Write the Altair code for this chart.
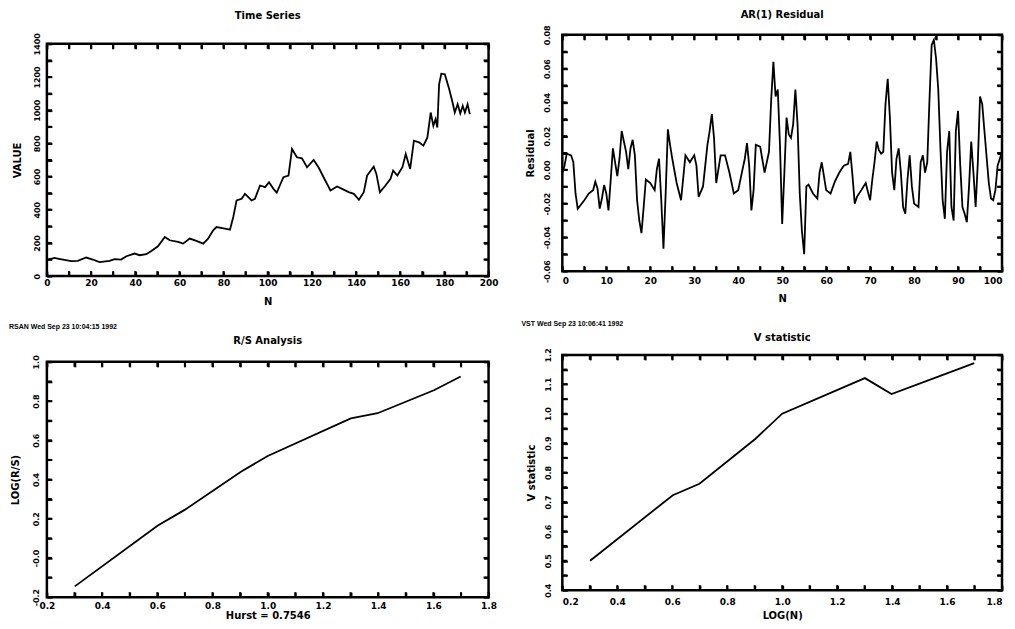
import altair as alt
import pandas as pd

FONT = "DejaVu Sans"

# ---------------- Panel 1: Time Series ----------------
ts_n = [0, 3.4, 4.9, 11, 14, 17.8, 20.8, 23.8, 28.4, 30.6, 33.6, 36, 39.7, 42, 45, 47.3,
        50.3, 53.4, 55.6, 59.4, 61.7, 64.7, 67.7, 70.8, 73, 75.3, 76.8, 80.6, 82.9, 84.4,
        85.9, 88.2, 89.7, 91.2, 92.7, 94.2, 96.5, 98.8, 100.6, 102.6, 104.1, 107.1, 109.4,
        111, 113.2, 115.5, 117.8, 120.8, 123, 125.3, 128.4, 131.4, 133.7, 136.7, 139, 141.3,
        143.5, 145, 148, 149.2, 150.8, 153.3, 155.6, 156.8, 158.7, 161, 162.5, 164.5, 166.2,
        168.5, 170.5, 172.3, 173.8, 175, 176, 176.8, 177.6, 178.6, 180.2, 182.2, 183.7,
        184.7, 186, 187.2, 188.3, 189.3, 190.5, 191.5]
ts_v = [96, 110, 106, 90, 92, 112, 100, 84, 92, 102, 100, 120, 136, 126, 132, 152,
        180, 236, 216, 206, 196, 226, 212, 196, 226, 276, 296, 286, 280, 356,
        456, 466, 496, 476, 456, 466, 546, 536, 566, 526, 503, 596, 606,
        766, 716, 710, 656, 700, 656, 596, 516, 540, 526, 506, 496, 460,
        506, 606, 660, 616, 506, 546, 586, 636, 606, 656, 736, 646, 816,
        806, 786, 836, 986, 906, 946, 896, 1156, 1220, 1216, 1126, 1046,
        986, 1036, 980, 1026, 986, 1036, 976]

# ---------------- Panel 2: AR(1) Residual ----------------
res_n = [0, 0.5, 1, 2, 2.5, 3, 3.5, 5, 6, 7, 7.5, 8, 8.5, 9, 9.5, 10, 10.5, 11, 11.5, 12,
         12.5, 13, 13.5, 14, 14.5, 15, 15.5, 16, 16.5, 17, 17.5, 18, 18.5, 19, 20, 21, 21.5,
         22, 22.5, 23, 23.5, 24, 24.5, 25, 26, 27, 28, 28.5, 29, 30, 30.5, 31, 32, 33, 33.5,
         34, 34.5, 35, 36, 37, 38, 39, 40, 41, 41.5, 42, 42.5, 43, 43.5, 44, 45, 46, 47, 47.5,
         48, 48.5, 49, 49.5, 50, 50.5, 51, 51.5, 52, 52.5, 53, 53.5, 54, 54.5, 55, 55.5, 56,
         57, 58, 58.5, 59, 59.5, 60, 61, 62, 63, 64, 65, 65.5, 66, 66.5, 67, 68, 69, 69.5, 70,
         70.5, 71, 71.5, 72, 72.5, 73, 73.5, 74, 74.5, 75, 75.5, 76, 76.5, 77, 77.5, 78, 78.5,
         79, 79.5, 80, 81, 81.5, 82, 82.5, 83, 83.5, 84, 84.5, 85, 85.5, 86, 86.5, 87, 87.5,
         88, 88.5, 89, 89.5, 90, 90.5, 91, 91.5, 92, 92.5, 93, 93.5, 94, 94.5, 95, 95.5, 96,
         97, 97.5, 98, 98.5, 99, 100]
res_v = [-0.002, 0.0025, 0.0096, 0.0086, 0.0045, -0.014, -0.023, -0.018, -0.014, -0.012,
         -0.007, -0.011, -0.023, -0.017, -0.009, -0.014, -0.024, -0.006, 0.0127, 0.0045,
         -0.0037, 0.0066, 0.023, 0.0168, 0.0107, 0.0004, 0.0127, 0.0178, 0.0086, -0.018,
         -0.030, -0.0375, -0.022, -0.0057, -0.0078, -0.012, 0.0004, 0.0066, -0.018, -0.0467,
         -0.014, 0.024, 0.0148, 0.0066, -0.0078, -0.018, 0.0086, 0.0066, 0.0045, 0.0086,
         0.0025, -0.016, -0.0098, 0.0148, 0.023, 0.033, 0.019, -0.0078, 0.0086, 0.0086,
         -0.0016, -0.014, -0.012, 0.0004, 0.0066, 0.0158, 0.0025, -0.024, -0.012, 0.0148,
         0.0137, -0.0016, 0.0107, 0.0414, 0.064, 0.0435, 0.0476, 0.0148, -0.032, -0.0016,
         0.031, 0.021, 0.019, 0.027, 0.0476, 0.027, -0.014, -0.0365, -0.050, -0.0098, -0.0088,
         -0.014, -0.017, -0.0016, 0.0045, -0.0037, -0.012, -0.014, -0.0068, -0.0016, 0.0025,
         0.0035, 0.0107, -0.0037, -0.020, -0.016, -0.012, -0.0078, -0.013, -0.018,
         -0.0057, 0.0045, 0.0168, 0.0117, 0.0096, 0.0107, 0.039, 0.054, 0.031, -0.0016,
         -0.012, 0.0066, 0.0127, -0.0016, -0.022, -0.026, -0.0057,
         0.0086, -0.0098, -0.020, -0.022, 0.0045, 0.0086, -0.0016, 0.0045, 0.0414, 0.074,
         0.077, 0.066, 0.0476, 0.0127, -0.018, -0.029, 0.0107,
         0.023, -0.022, -0.030, 0.023, 0.035, 0.0025, -0.022, -0.026, -0.031, -0.0098, 0.0168,
         -0.0016, -0.022, 0.0045, 0.0435, 0.039, 0.023,
         -0.0078, -0.017, -0.018, -0.012, 0.0025, 0.0107]

# ---------------- Panel 3 / 4 ----------------
log_n = [0.301, 0.602, 0.699, 0.903, 1.0, 1.301, 1.398, 1.602, 1.699]
log_rs = [-0.145, 0.165, 0.245, 0.44, 0.52, 0.712, 0.738, 0.855, 0.925]
v_stat = [0.50, 0.723, 0.762, 0.915, 1.0, 1.121, 1.067, 1.138, 1.172]

# ---------------- ticks and labels ----------------
p1_xticks = [0, 10, 20, 30, 40, 50, 60, 70, 80, 90, 100, 110, 120, 130, 140, 150, 160, 170, 180, 190, 200]
p1_xmajor = [0, 20, 40, 60, 80, 100, 120, 140, 160, 180, 200]
p1_xlabels = ["0", "20", "40", "60", "80", "100", "120", "140", "160", "180", "200"]
p1_yticks = [0, 100, 200, 300, 400, 500, 600, 700, 800, 900, 1000, 1100, 1200, 1300, 1400]
p1_ymajor = [0, 200, 400, 600, 800, 1000, 1200, 1400]
p1_ylabels = ["0", "200", "400", "600", "800", "1000", "1200", "1400"]

p2_xticks = [0, 5, 10, 15, 20, 25, 30, 35, 40, 45, 50, 55, 60, 65, 70, 75, 80, 85, 90, 95, 100]
p2_xmajor = [0, 10, 20, 30, 40, 50, 60, 70, 80, 90, 100]
p2_xlabels = ["0", "10", "20", "30", "40", "50", "60", "70", "80", "90", "100"]
p2_yticks = [-0.06, -0.05, -0.04, -0.03, -0.02, -0.01, 0.0, 0.01, 0.02, 0.03, 0.04, 0.05, 0.06, 0.07, 0.08]
p2_ymajor = [-0.06, -0.04, -0.02, 0.0, 0.02, 0.04, 0.06, 0.08]
p2_ylabels = ["-0.06", "-0.04", "-0.02", "0.00", "0.02", "0.04", "0.06", "0.08"]

p34_xticks = [0.2, 0.3, 0.4, 0.5, 0.6, 0.7, 0.8, 0.9, 1.0, 1.1, 1.2, 1.3, 1.4, 1.5, 1.6, 1.7, 1.8]
p34_xmajor = [0.2, 0.4, 0.6, 0.8, 1.0, 1.2, 1.4, 1.6, 1.8]
p34_xlabels = ["0.2", "0.4", "0.6", "0.8", "1.0", "1.2", "1.4", "1.6", "1.8"]
p3_yticks = [-0.2, -0.1, 0.0, 0.1, 0.2, 0.3, 0.4, 0.5, 0.6, 0.7, 0.8, 0.9, 1.0]
p3_ymajor = [-0.2, 0.0, 0.2, 0.4, 0.6, 0.8, 1.0]
p3_ylabels = ["-0.2", "-0.0", "0.2", "0.4", "0.6", "0.8", "1.0"]
p4_yticks = [0.4, 0.45, 0.5, 0.55, 0.6, 0.65, 0.7, 0.75, 0.8, 0.85, 0.9, 0.95, 1.0, 1.05, 1.1, 1.15, 1.2]
p4_ymajor = [0.4, 0.5, 0.6, 0.7, 0.8, 0.9, 1.0, 1.1, 1.2]
p4_ylabels = ["0.4", "0.5", "0.6", "0.7", "0.8", "0.9", "1.0", "1.1", "1.2"]

header3 = "RSAN   Wed Sep 23 10:04:15 1992"
header4 = "VST   Wed Sep 23 10:06:41 1992"


def label_expr(major, labels):
    keys = ",".join(str(int(round(v * 1000))) for v in major)
    labs = ",".join("'" + s + "'" for s in labels)
    idx = f"indexof([{keys}], round(datum.value*1000))"
    return f"{idx} < 0 ? '' : [{labs}][{idx}]"


def edge_ticks(vals, edge, xs, ys, along_x, shift):
    """Inward tick marks along one edge of the frame, placed through the scales."""
    d = pd.DataFrame({"v": vals, "e": [edge] * len(vals)})
    if along_x:
        return alt.Chart(d).mark_tick(orient="vertical", size=5, thickness=2, color="black",
                                      opacity=1, yOffset=shift).encode(
            x=alt.X("v:Q", scale=xs, axis=None), y=alt.Y("e:Q", scale=ys, axis=None))
    return alt.Chart(d).mark_tick(orient="horizontal", size=5, thickness=2, color="black",
                                  opacity=1, xOffset=shift).encode(
        x=alt.X("e:Q", scale=xs, axis=None), y=alt.Y("v:Q", scale=ys, axis=None))


def panel(df, xdom, ydom, xt, xm, xl, yt, ym, yl, xtitle, ytitle, w, h, pad,
          ylpad, ytpad, xlpad, xtpad, flush=False, title=None, toff=0,
          name=None, name_y=0, header=None, hdx=0, hoff=0):
    common = dict(domain=False, ticks=True, tickSize=5, tickWidth=2, tickColor="black",
                  grid=False, labelFont=FONT, labelFontWeight="bold", zindex=1,
                  labelColor="black", titleFont=FONT, titleFontWeight="bold",
                  titleFontSize=10, titleColor="black")
    xs = alt.Scale(domain=xdom, nice=False, zero=False)
    ys = alt.Scale(domain=ydom, nice=False, zero=False, range=[h + pad, pad])
    base = alt.Chart(df)
    main = base.mark_line(color="black", strokeWidth=1.8).encode(
        x=alt.X("x:Q", scale=xs, axis=alt.Axis(
            orient="bottom", values=xt, labelExpr=label_expr(xm, xl), title=xtitle,
            labelFontSize=9, labelPadding=xlpad, titlePadding=xtpad, labelFlush=flush,
            labelOverlap=False, offset=-5, **common)),
        y=alt.Y("y:Q", scale=ys, axis=alt.Axis(
            orient="left", values=yt, labelExpr=label_expr(ym, yl), title=ytitle,
            labelFontSize=8, labelAngle=270, labelAlign="center", labelBaseline="bottom",
            labelPadding=ylpad, titlePadding=ytpad, labelFlush=False, labelOverlap=False,
            offset=-5, **common)),
    )
    ticks2 = base.mark_line(opacity=0).encode(
        x=alt.X("x:Q", scale=xs, axis=alt.Axis(orient="top", values=xt, labels=False,
                                                title=None, offset=-(pad + 5), **common)),
        y=alt.Y("y:Q", scale=ys, axis=alt.Axis(orient="right", values=yt, labels=False,
                                                title=None, offset=-5, **common)),
    )
    fdf = pd.DataFrame({"x0": [xdom[0]], "x1": [xdom[1]], "y0": [ydom[0]], "y1": [ydom[1]]})
    frame = alt.Chart(fdf).mark_rect(fillOpacity=0, stroke="black", strokeWidth=2.5).encode(
        x=alt.X("x0:Q", scale=xs, axis=None), x2="x1:Q",
        y=alt.Y("y0:Q", scale=ys, axis=None), y2="y1:Q")
    tk = [edge_ticks(xt, ydom[0], xs, ys, True, -2.5),
          edge_ticks(xt, ydom[1], xs, ys, True, 2.5),
          edge_ticks(yt, xdom[0], xs, ys, False, 2.5),
          edge_ticks(yt, xdom[1], xs, ys, False, -2.5)]
    layers = [frame, main, ticks2] + tk
    if name:
        txt = alt.Chart(pd.DataFrame({"t": [name]})).mark_text(
            align="center", baseline="middle", font=FONT, fontSize=10,
            fontWeight="bold", color="black").encode(
            x=alt.value(w / 2), y=alt.value(name_y), text="t:N")
        layers.append(txt)
    props = dict(width=w, height=h + pad)
    if title:
        props["title"] = alt.Title(title, font=FONT, fontSize=10, fontWeight="bold",
                                   color="black", offset=toff, frame="group", anchor="middle")
    if header:
        props["title"] = alt.Title(header, font="Liberation Sans", fontSize=7,
                                   fontWeight="bold", color="black", offset=hoff,
                                   frame="group", anchor="start", dx=hdx)
    return alt.layer(*layers).resolve_axis(x="independent", y="independent").properties(**props)


df1 = pd.DataFrame({"x": ts_n, "y": ts_v})
df2 = pd.DataFrame({"x": res_n, "y": res_v})
df3 = pd.DataFrame({"x": log_n, "y": log_rs})
df4 = pd.DataFrame({"x": log_n, "y": v_stat})

p1 = panel(df1, [0, 200], [0, 1400], p1_xticks, p1_xmajor, p1_xlabels,
           p1_yticks, p1_ymajor, p1_ylabels, "N", "VALUE",
           443, 233, 9, 5, 11, 2, 9, title="Time Series", toff=12)
p2 = panel(df2, [0, 100], [-0.06, 0.08], p2_xticks, p2_xmajor, p2_xlabels,
           p2_yticks, p2_ymajor, p2_ylabels, "N", "Residual",
           441, 237, 0, 11, 8, 5, 8, flush=True, title="AR(1) Residual", toff=5)
p3 = panel(df3, [0.2, 1.8], [-0.2, 1.0], p34_xticks, p34_xmajor, p34_xlabels,
           p3_yticks, p3_ymajor, p3_ylabels, "Hurst = 0.7546", "LOG(R/S)",
           443, 236, 7, 6, 12, 4, 0, name="R/S Analysis", name_y=-14,
           header=header3, hdx=-38, hoff=6)
p4 = panel(df4, [0.2, 1.8], [0.4, 1.2], p34_xticks, p34_xmajor, p34_xlabels,
           p4_yticks, p4_ymajor, p4_ylabels, "LOG(N)", "V statistic",
           441, 236, 0, 10, 8, 7, 4, flush=True, name="V statistic", name_y=-17,
           header=header4, hdx=-41, hoff=6)

chart = alt.concat(p1, p2, p3, p4, columns=2, bounds="flush",
                   spacing={"row": 79, "column": 74}).properties(
    padding={"left": 0, "top": 0, "right": 0, "bottom": 0},
    background="white",
).configure_view(stroke="transparent")

chart.save("out.html", embed_options={"renderer": "svg", "actions": False})
